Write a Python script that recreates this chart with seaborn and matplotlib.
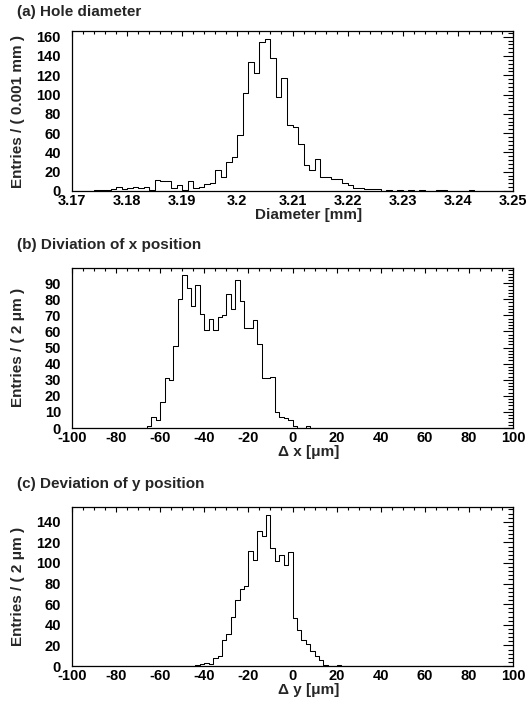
import numpy as np
import pandas as pd
import matplotlib
matplotlib.use("Agg")
import matplotlib.pyplot as plt
from matplotlib.ticker import MultipleLocator, FixedLocator, FixedFormatter
import seaborn as sns

# ---------------- data (bin contents) ----------------
# (a) hole diameter, 80 bins of 0.001 mm from 3.17 to 3.25
diam_range = (3.17, 3.25)
diam_counts = [0, 0, 0, 0, 1, 1, 1, 2, 4, 2,
               3, 4, 3, 4, 1, 11, 10, 10, 3, 6,
               1, 10, 3, 4, 7, 8, 22, 14, 30, 35,
               58, 102, 134, 122, 154, 158, 138, 97, 117, 68,
               66, 49, 27, 22, 33, 15, 14, 12, 12, 8,
               6, 3, 3, 2, 2, 2, 0, 1, 0, 1,
               0, 1, 0, 1, 0, 0, 1, 1, 0, 0,
               0, 0, 1, 0, 0, 0, 0, 0, 0, 0]

# (b) deviation of x position, 100 bins of 2 um from -100 to 100
dx_range = (-100, 100)
dx_counts = [0] * 10 + \
            [0, 0, 0, 0, 0, 0, 0, 1, 7, 5,
             16, 31, 30, 51, 80, 95, 87, 76, 89, 71,
             61, 68, 61, 69, 70, 83, 74, 92, 79, 62,
             62, 67, 52, 31, 31, 32, 10, 7, 6, 5,
             1, 0, 0, 1, 0, 0, 0, 0, 0, 0] + [0] * 40

# (c) deviation of y position, 100 bins of 2 um from -100 to 100
dy_range = (-100, 100)
dy_counts = [0] * 20 + \
            [0, 0, 0, 0, 0, 0, 0, 0, 1, 2,
             3, 2, 8, 10, 25, 31, 48, 64, 75, 78,
             112, 103, 131, 126, 147, 115, 102, 108, 98, 111,
             47, 35, 25, 21, 15, 10, 6, 1, 0, 0,
             1, 0, 0, 0, 0, 0, 0, 0, 0, 0] + [0] * 30

titles = ["(a) Hole diameter", "(b) Diviation of x position", "(c) Deviation of y position"]
xlabels = ["Diameter [mm]", "\u0394 x [\u03bcm]", "\u0394 y [\u03bcm]"]
ylabels = ["Entries / ( 0.001 mm )", "Entries / ( 2 \u03bcm )", "Entries / ( 2 \u03bcm )"]

diam_xticks = [3.17, 3.18, 3.19, 3.20, 3.21, 3.22, 3.23, 3.24, 3.25]
diam_xticklabels = ["3.17", "3.18", "3.19", "3.2", "3.21", "3.22", "3.23", "3.24", "3.25"]
dev_xticks = [-100, -80, -60, -40, -20, 0, 20, 40, 60, 80, 100]
dev_xticklabels = ["-100", "-80", "-60", "-40", "-20", "0", "20", "40", "60", "80", "100"]

# ---------------- style ----------------
sns.set_style("white")
plt.rcParams["font.family"] = ["Liberation Sans", "DejaVu Sans"]
plt.rcParams["font.weight"] = "bold"
plt.rcParams["axes.unicode_minus"] = False

W, H = 532, 712
fig = plt.figure(figsize=(W / 100, H / 100), dpi=100)

# axes boxes in pixel coordinates (left, top, right, bottom)
boxes = [(72, 31, 513, 191), (72, 267.5, 513, 428), (72, 507, 513, 666)]
title_y = [12, 245, 484]

panels = [
    (diam_counts, diam_range, diam_xticks, diam_xticklabels, 0.002, 20, 4),
    (dx_counts, dx_range, dev_xticks, dev_xticklabels, 5, 10, 2),
    (dy_counts, dy_range, dev_xticks, dev_xticklabels, 5, 20, 4),
]

fs = 10.5
for i, (counts, rng, xt, xtl, xminor, ymajor, yminor) in enumerate(panels):
    l, t, r, b = boxes[i]
    ax = fig.add_axes([l / W, 1 - b / H, (r - l) / W, (b - t) / H])
    n = len(counts)
    width = (rng[1] - rng[0]) / n
    centers = rng[0] + width * (np.arange(n) + 0.5)
    df = pd.DataFrame({"x": centers, "w": np.asarray(counts, dtype=float)})
    sns.histplot(data=df, x="x", weights="w", bins=n, binrange=rng, element="step",
                 fill=False, color="black", linewidth=0.75, ax=ax)
    ax.set_xlim(rng)
    ax.set_ylim(0, 1.05 * max(counts))

    ax.xaxis.set_major_locator(FixedLocator(xt))
    ax.xaxis.set_major_formatter(FixedFormatter(xtl))
    ax.xaxis.set_minor_locator(MultipleLocator(xminor))
    ax.yaxis.set_major_locator(MultipleLocator(ymajor))
    ax.yaxis.set_minor_locator(MultipleLocator(yminor))

    ax.tick_params(axis="both", which="both", direction="in", top=True, right=True,
                   colors="black", width=0.8, labelsize=fs)
    ax.tick_params(axis="x", which="major", length=3.8, pad=2.5)
    ax.tick_params(axis="x", which="minor", length=2.0)
    ax.tick_params(axis="y", which="major", length=7.5, pad=8)
    ax.tick_params(axis="y", which="minor", length=3.8)
    for lab in ax.get_xticklabels() + ax.get_yticklabels():
        lab.set_fontweight("bold")
    for s in ax.spines.values():
        s.set_linewidth(0.9)
        s.set_color("black")

    ax.set_xlabel(xlabels[i], fontsize=11, fontweight="bold")
    ax.set_ylabel(ylabels[i], fontsize=11, fontweight="bold")
    ax.xaxis.set_label_coords(0.537, -24 / (b - t))
    ax.xaxis.label.set_va("center")
    ax.yaxis.set_label_coords((18 - l) / (r - l), 0.5)
    ax.yaxis.label.set_va("center")

    fig.text(17 / W, 1 - title_y[i] / H, titles[i], fontsize=11, fontweight="bold",
             ha="left", va="center")

fig.savefig("out.png", dpi=100)
